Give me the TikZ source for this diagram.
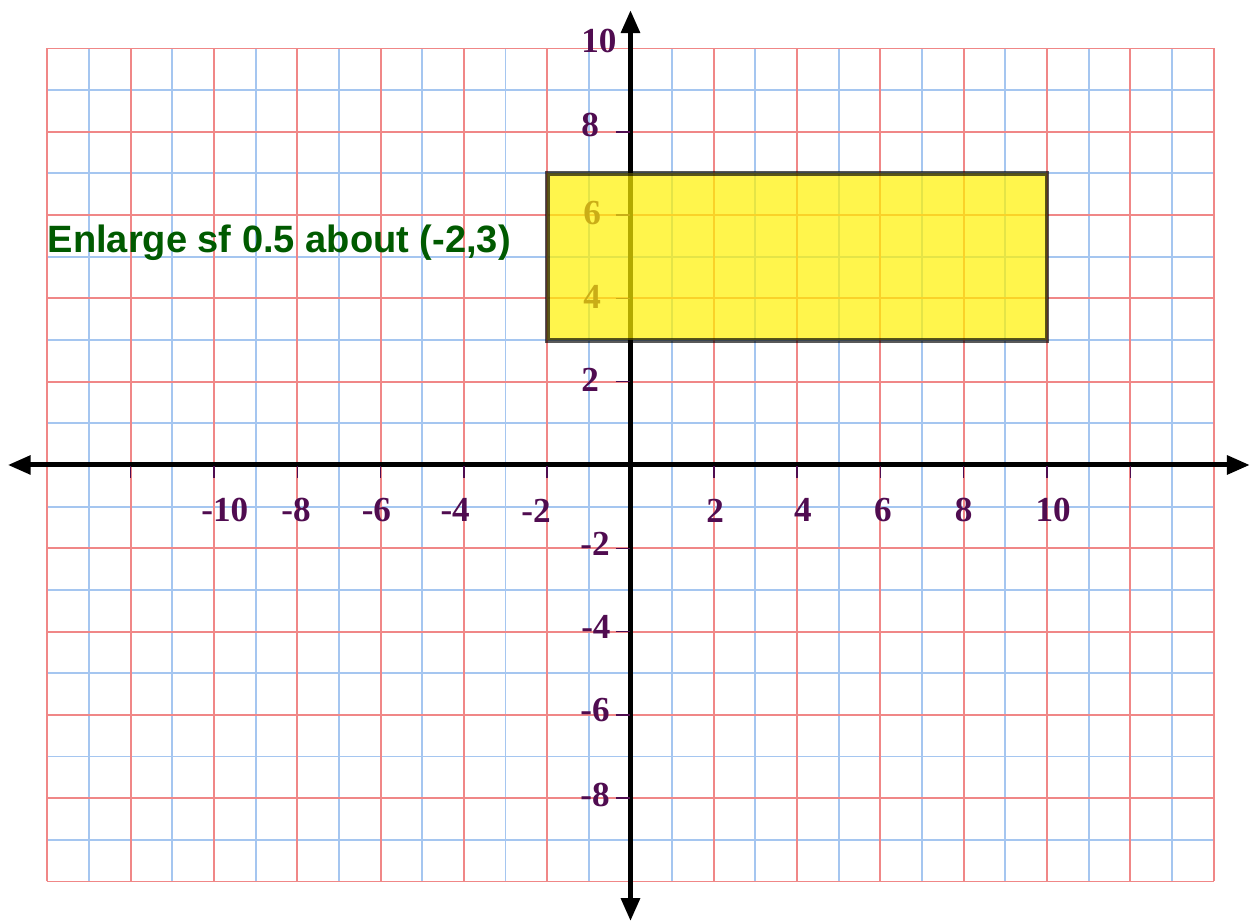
\documentclass[tikz,border=0pt]{standalone}
\usepackage{fontspec}
\setmainfont{Liberation Serif}
\setsansfont{Liberation Sans}
\usetikzlibrary{arrows.meta}
\definecolor{gridred}{RGB}{240,135,135}
\definecolor{gridblue}{RGB}{165,198,240}
\definecolor{labpurple}{RGB}{80,12,80}
\definecolor{titlegreen}{RGB}{0,90,0}
\begin{document}
\begin{tikzpicture}[
  gridb/.style={draw=gridblue,line width=1.3pt},
  gridr/.style={draw=gridred,line width=1.3pt},
  axisline/.style={draw=black,line width=3.4pt,{Triangle[length=0.55cm,width=0.44cm]}-{Triangle[length=0.55cm,width=0.44cm]}},
  tickmark/.style={draw=labpurple,line width=1pt},
  lab/.style={text=labpurple,inner sep=0pt,anchor=center,font=\bfseries\fontsize{24}{28}\selectfont},
  yellowbox/.style={fill=yellow,fill opacity=0.7,draw=black,draw opacity=0.65,line width=3.4pt},
  titletext/.style={text=titlegreen,inner sep=0pt,anchor=base west,font=\sffamily\bfseries\fontsize{26}{30}\selectfont}
]
\useasboundingbox (-15.138,-10.972) rectangle (15.090,11.164);
\fill[white] (-15.138,-10.972) rectangle (15.090,11.164);
% grid
\foreach \i in {-13,-11,...,13} \draw[gridb] (\i,-10) -- (\i,10);
\foreach \j in {-9,-7,...,9} \draw[gridb] (-14,\j) -- (14,\j);
\foreach \i in {-14,-12,...,14} \draw[gridr] (\i,-10) -- (\i,10);
\foreach \j in {-10,-8,...,10} \draw[gridr] (-14,\j) -- (14,\j);
% axes
\coordinate (xleft) at (-14.95,0);
\coordinate (xright) at (14.87,0);
\coordinate (ybottom) at (0,-10.95);
\coordinate (ytop) at (0,10.92);
\draw[axisline] (xleft) -- (xright);
\draw[axisline] (ybottom) -- (ytop);
% ticks
\foreach \i in {-12,-10,-8,-6,-4,-2,2,4,6,8,10,12} \draw[tickmark] (\i,-0.02) -- (\i,-0.32);
\foreach \j in {-8,-6,-4,-2,2,4,6,8} \draw[tickmark] (-0.36,\j) -- (0,\j);
% x labels
\foreach \t/\p [count=\k] in {-10/-9.74,-8/-8.03,-6/-6.10,-4/-4.21,-2/-2.27,2/2.03,4/4.14,6/6.06,8/8.0,10/10.15}
  \node[lab] (xlab\k) at (\p,-1.09) {\t};
% y labels
\foreach \t/\px/\py [count=\k] in {10/-0.76/10.17,8/-0.97/8.16,6/-0.92/6.05,4/-0.92/4.03,2/-0.97/2.04,-2/-0.85/-1.90,-4/-0.83/-3.89,-6/-0.85/-5.88,-8/-0.85/-7.92}
  \node[lab] (ylab\k) at (\px,\py) {\t};
% rectangle
\draw[yellowbox] (-2,3) rectangle (10,7);
% title
\node[titletext] (title) at (-14.0,5.11) {Enlarge sf 0.5 about (-2,3)};
\end{tikzpicture}
\end{document}
